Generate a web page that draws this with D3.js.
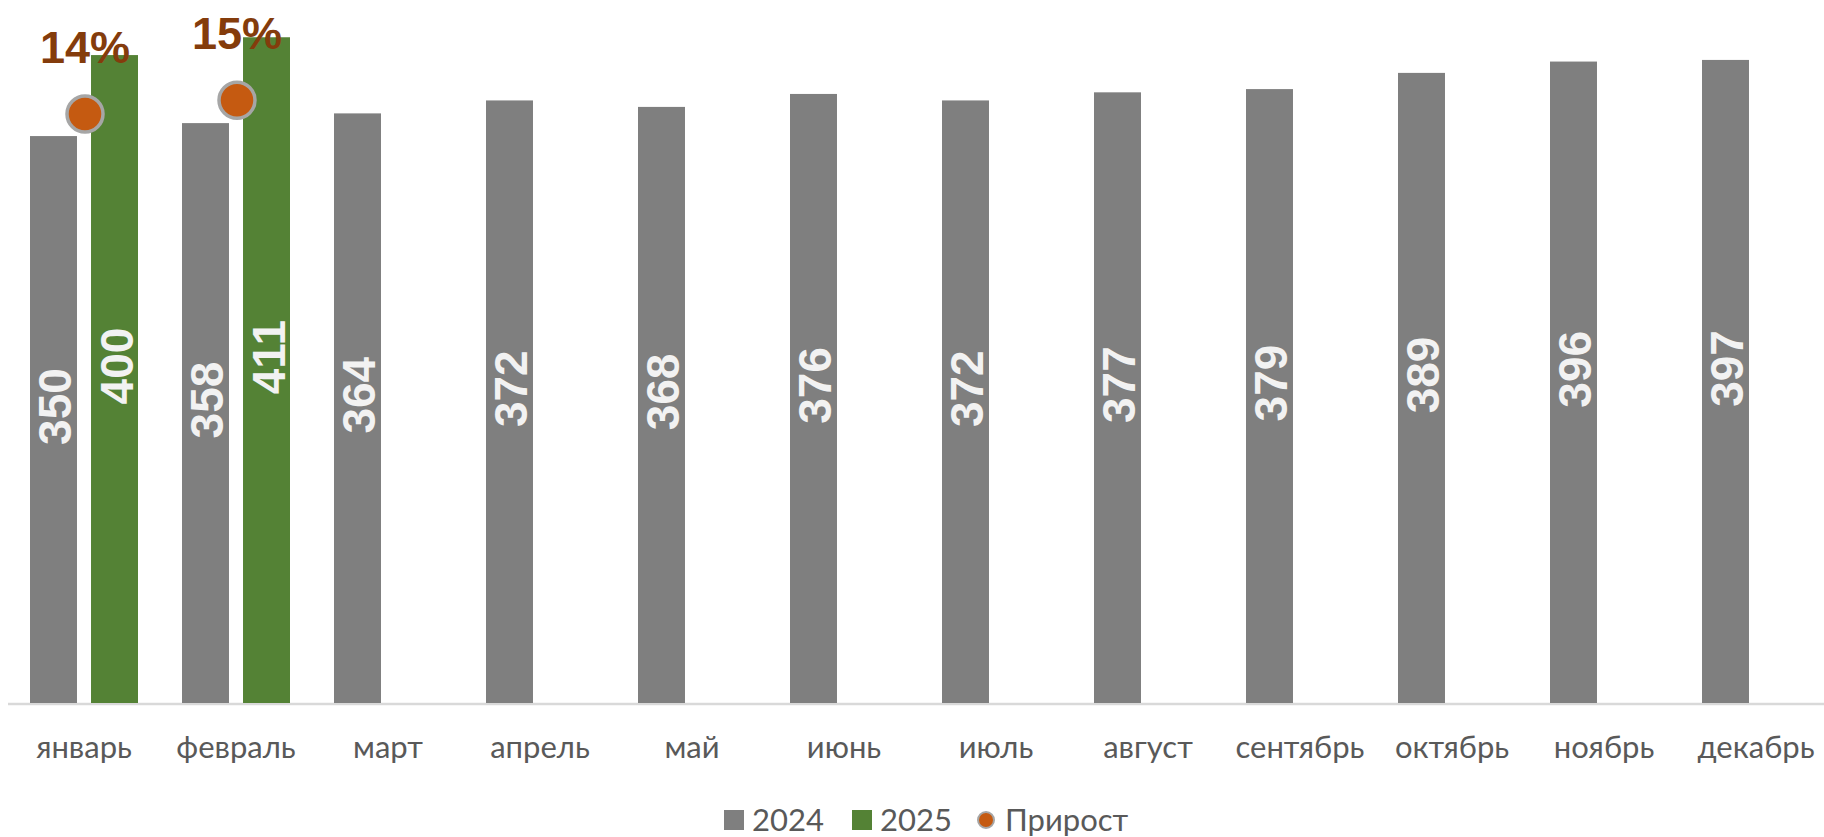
<!DOCTYPE html>
<html><head><meta charset="utf-8">
<script src="https://cdn.jsdelivr.net/npm/d3@7"></script>
<style>html,body{margin:0;padding:0;background:#fff;overflow:hidden}</style>
</head><body>
<svg id="c" width="1824" height="837"></svg>
<script>
const months = ["январь","февраль","март","апрель","май","июнь","июль","август","сентябрь","октябрь","ноябрь","декабрь"];
const v2024 = [350,358,364,372,368,376,372,377,379,389,396,397];
const v2025 = [400,411];
const growth = [0.143,0.148];
const legendLabels = ["2024","2025","Прирост"];

const svg = d3.select("#c");
const W = 1824, H = 837;
const x = d3.scaleBand().domain(months).range([8, 1832]).paddingInner(0).paddingOuter(0);
const y = d3.scaleLinear().domain([0, 434]).range([703, 0]);
const y2 = d3.scaleLinear().domain([0.1, 0.2]).range([232, -42.5]);
const sub = d3.scaleBand().domain(["2024","2025"]).range([-54, 54]).paddingInner(0.23);
const cGray = "#7F7F7F", cGreen = "#548235", cOrange = "#C55A11";

// baseline
svg.append("line").attr("x1", 8).attr("x2", W).attr("y1", y(0)+1).attr("y2", y(0)+1)
  .attr("stroke", "#D9D9D9").attr("stroke-width", 2.5);

const cx = m => x(m) + x.bandwidth()/2;

function bars(vals, key, color) {
  const data = vals.map((v,i)=>({m: months[i], v}));
  svg.append("g").selectAll("rect").data(data).join("rect")
    .attr("x", d => cx(d.m) + sub(key))
    .attr("width", sub.bandwidth())
    .attr("y", d => y(d.v))
    .attr("height", d => y(0) - y(d.v))
    .attr("fill", color);
  svg.append("g").selectAll("text").data(data).join("text")
    .attr("transform", d => `translate(${cx(d.m) + sub(key) + sub.bandwidth()/2 + 2},${(y(d.v)+y(0))/2 - 13}) rotate(-90)`)
    .attr("text-anchor", "middle").attr("dominant-baseline", "central")
    .attr("font-family", "Liberation Sans, Arial, sans-serif").attr("font-weight", "bold")
    .attr("font-size", 46).attr("fill", "#F2F2F2")
    .text(d => d.v);
}
bars(v2024, "2024", cGray);
bars(v2025, "2025", cGreen);

// growth dots
const gdata = growth.map((g,i)=>({m: months[i], g}));
svg.append("g").selectAll("circle").data(gdata).join("circle")
  .attr("cx", d => cx(d.m) + 1).attr("cy", d => y2(d.g)).attr("r", 18)
  .attr("fill", cOrange).attr("stroke", "#A6A6A6").attr("stroke-width", 3.5);
svg.append("g").selectAll("text").data(gdata).join("text")
  .attr("x", d => cx(d.m) + 1).attr("y", d => y2(d.g) - 51)
  .attr("text-anchor", "middle")
  .attr("font-family", "Liberation Sans, Arial, sans-serif").attr("font-weight", "bold")
  .attr("font-size", 45).attr("fill", "#843C0C")
  .text(d => d3.format(".0%")(d.g));

// category labels
svg.append("g").selectAll("text").data(months).join("text")
  .attr("x", d => cx(d)).attr("y", 758)
  .attr("text-anchor", "middle")
  .attr("font-family", "Lato, Liberation Sans, sans-serif")
  .attr("font-size", 31).attr("fill", "#595959")
  .text(d => d);

// legend
const lg = svg.append("g").attr("font-family", "Lato, Liberation Sans, sans-serif").attr("font-size", 31).attr("fill", "#595959");
lg.append("rect").attr("x", 724).attr("y", 810).attr("width", 20).attr("height", 20).attr("fill", cGray);
lg.append("text").attr("x", 752).attr("y", 831).text(legendLabels[0]);
lg.append("rect").attr("x", 852).attr("y", 810).attr("width", 20).attr("height", 20).attr("fill", cGreen);
lg.append("text").attr("x", 880).attr("y", 831).text(legendLabels[1]);
lg.append("circle").attr("cx", 986).attr("cy", 820).attr("r", 8).attr("fill", cOrange).attr("stroke", "#A6A6A6").attr("stroke-width", 2);
lg.append("text").attr("x", 1005).attr("y", 831).text(legendLabels[2]);
</script>
</body></html>
